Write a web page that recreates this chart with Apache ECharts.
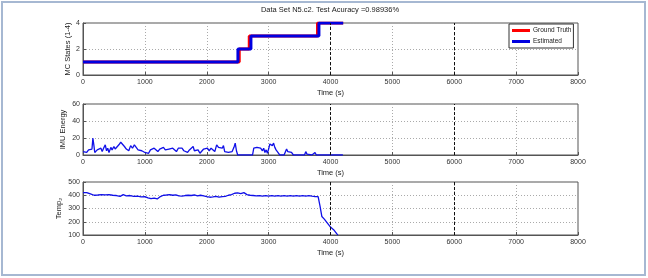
<!DOCTYPE html>
<html><head><meta charset="utf-8">
<script src="https://cdn.jsdelivr.net/npm/echarts@6/dist/echarts.min.js"></script>
<style>html,body{margin:0;padding:0;background:#fff}#c{width:648px;height:278px}</style>
</head><body><div id="c"></div>
<script>
var xTicksMin = 0, xTicksMax = 8000, xInterval = 1000;
var gtTimes  = [0, 2525, 2687, 3790, 4205];
var gtStates = [1, 2, 3, 4, 4];
var estTimes  = [0, 2504, 2714, 3813, 4205];
var estStates = [1, 2, 3, 4, 4];

var imuT = [0,30,60,90,120,145,160,175,190,210,230,260,290,310,340,360,380,400,420,450,470,500,520,550,580,610,640,670,700,720,740,770,800,830,860,890,920,950,980,1000,1030,1060,1090,1120,1150,1180,1210,1240,1270,1300,1330,1360,1390,1420,1450,1480,1510,1540,1570,1600,1630,1660,1690,1720,1750,1780,1800,1830,1860,1890,1920,1950,1980,2010,2040,2070,2100,2130,2160,2190,2220,2250,2270,2290,2320,2350,2380,2410,2440,2460,2480,2500,2550,2600,2650,2700,2740,2760,2790,2810,2840,2870,2900,2920,2940,2960,2980,3000,3020,3040,3060,3080,3100,3120,3150,3180,3250,3290,3310,3340,3370,3400,3500,3580,3600,3620,3640,3700,3730,3750,3770,3900,4000,4100,4120,4150,4200];
var imuV = [4,5,3,6,4,7,20,12,3,2,6,5,8,4,9,12,5,8,3,9,6,10,7,5,12,15,13,10,7,9,5,11,8,12,10,6,8,5,7,3,5,2,6,4,8,6,4,7,5,9,6,4,7,5,8,6,4,8,6,8,5,7,3,6,4,10,5,3,6,2,4,7,9,8,5,8,6,4,12,9,11,8,11,4,2,3,1,4,9,14,5,0,0,0,0,0,0,8,6,9,7,8,5,8,3,6,2,7,13,15,11,14,9,6,3,0,0,7,4,2,3,0,0,0,4,1,0,0,2,3,0,0,0,0,1,0,0];

var tempT = [0,60,120,180,240,300,360,420,480,540,600,650,700,760,820,880,940,1000,1050,1100,1150,1200,1250,1300,1350,1400,1450,1500,1550,1600,1650,1700,1750,1800,1850,1900,1950,2000,2050,2100,2150,2200,2250,2300,2350,2400,2450,2500,2550,2600,2650,2700,2750,2800,2850,2900,2950,3000,3050,3100,3150,3200,3250,3300,3350,3400,3450,3500,3550,3600,3650,3700,3750,3780,3800,3830,3860,3900,3950,4000,4050,4100,4120];
var tempV = [420,420,410,400,402,405,403,405,400,398,392,405,396,398,392,393,388,390,380,375,378,372,390,400,402,405,400,403,395,393,398,400,398,402,395,400,396,390,385,388,392,385,390,392,400,405,415,418,412,420,405,400,398,395,397,393,397,393,397,393,397,393,397,393,397,393,397,393,397,393,397,393,390,395,390,320,240,220,190,160,140,110,100];

var titleText = 'Data Set N5.c2. Test Acuracy =0.98936%';
var yNames = ['MC States (1-4)', 'IMU Energy', 'Temp\u2082'];

function pairs(t, v) { return t.map(function (x, i) { return [x, v[i]]; }); }

var FONT = 'Liberation Sans';
var grids = [
  {left: 83, right: 70, top: 23, height: 52},
  {left: 83, right: 70, top: 104, height: 51},
  {left: 83, right: 70, top: 182, height: 53}
];
grids.forEach(function (g) { g.show = true; g.borderColor = '#555'; g.borderWidth = 1; g.backgroundColor = '#fff'; });

function xAx(i) {
  return {
    gridIndex: i, type: 'value', min: xTicksMin, max: xTicksMax, interval: xInterval,
    name: 'Time (s)', nameLocation: 'middle', nameGap: 14, nameMoveOverlap: false,
    nameTextStyle: {fontFamily: FONT, fontSize: 7.5, color: '#222'},
    axisLine: {show: true, lineStyle: {color: '#555', width: 1}},
    axisTick: {show: true, inside: true, length: 3, lineStyle: {color: '#555'}},
    axisLabel: {fontFamily: FONT, fontSize: 7, color: '#333', margin: 4,
      formatter: function (v) { return String(v); }},
    splitLine: {show: true, lineStyle: {color: '#aaa', type: [1, 2], width: 1}}
  };
}
function yAx(i, min, max, interval, gap) {
  return {
    gridIndex: i, type: 'value', min: min, max: max, interval: interval,
    name: yNames[i], nameLocation: 'middle', nameGap: gap, nameRotate: 90, nameMoveOverlap: false,
    nameTextStyle: {fontFamily: FONT, fontSize: 7.5, color: '#222'},
    axisLine: {show: true, lineStyle: {color: '#555', width: 1}},
    axisTick: {show: true, inside: true, length: 3, lineStyle: {color: '#555'}},
    axisLabel: {fontFamily: FONT, fontSize: 7, color: '#333', margin: 3},
    splitLine: {show: true, lineStyle: {color: '#aaa', type: [1, 2], width: 1}}
  };
}
function vLines() {
  return {silent: true, symbol: 'none', label: {show: false},
    lineStyle: {color: '#111', type: [3, 2], width: 1},
    data: [{xAxis: 4000}, {xAxis: 6000}]};
}

var chart = echarts.init(document.getElementById('c'), null, {renderer: 'canvas'});
chart.setOption({
  animation: false,
  backgroundColor: '#fff',
  title: {text: titleText, left: 330, top: 6, textAlign: 'center', padding: 0,
    textStyle: {fontFamily: FONT, fontSize: 7.5, fontWeight: 'normal', color: '#222'}},
  legend: {
    data: ['Ground Truth', 'Estimated'], left: 509, top: 24, orient: 'vertical',
    icon: 'rect', itemWidth: 18, itemHeight: 3, itemGap: 4,
    backgroundColor: '#fff', borderColor: '#333', borderWidth: 1, borderRadius: 0,
    padding: [3, 2, 3, 3],
    textStyle: {fontFamily: FONT, fontSize: 6.5, color: '#222', padding: [0, 0, 0, -2]}
  },
  graphic: [{type: 'rect', shape: {x: 2, y: 2, width: 643, height: 273},
    style: {fill: 'none', stroke: '#a6b8d2', lineWidth: 2}, silent: true}],
  grid: grids,
  xAxis: [xAx(0), xAx(1), xAx(2)],
  yAxis: [yAx(0, 0, 4, 2, 11), yAx(1, 0, 60, 20, 16), yAx(2, 100, 500, 100, 20)],
  series: [
    {name: 'Ground Truth', type: 'line', xAxisIndex: 0, yAxisIndex: 0, step: 'end',
     data: pairs(gtTimes, gtStates), showSymbol: false, color: '#ff0000',
     lineStyle: {width: 3, color: '#ff0000'}, markLine: vLines()},
    {name: 'Estimated', type: 'line', xAxisIndex: 0, yAxisIndex: 0, step: 'end',
     data: pairs(estTimes, estStates), showSymbol: false, color: '#0000e0',
     lineStyle: {width: 3, color: '#0000e0'}},
    {name: 'IMU', type: 'line', xAxisIndex: 1, yAxisIndex: 1,
     data: pairs(imuT, imuV), showSymbol: false,
     lineStyle: {width: 1.3, color: '#1010e8'}, markLine: vLines()},
    {name: 'Temp', type: 'line', xAxisIndex: 2, yAxisIndex: 2,
     data: pairs(tempT, tempV), showSymbol: false,
     lineStyle: {width: 1.3, color: '#1010e8'}, markLine: vLines()}
  ]
});
</script></body></html>
